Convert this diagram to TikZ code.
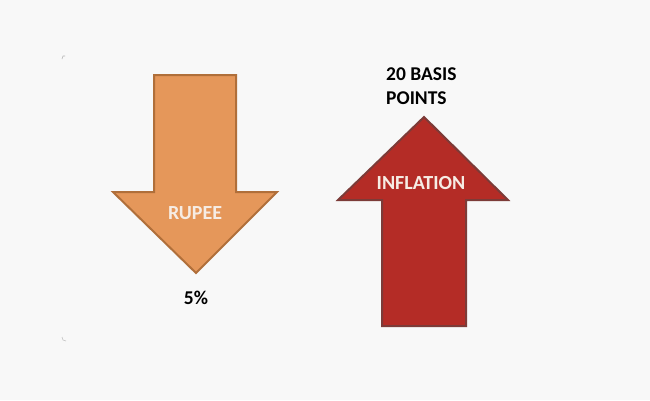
\documentclass[tikz,border=0pt]{standalone}
\usepackage{fontspec}
\setmainfont{Carlito}
\definecolor{bg}{HTML}{F8F8F8}
\definecolor{orfill}{HTML}{E5975A}
\definecolor{ordraw}{HTML}{B06F3A}
\definecolor{rdfill}{HTML}{B42C26}
\definecolor{rddraw}{HTML}{7C3B38}
\definecolor{lbl}{HTML}{F6ECE4}
\begin{document}
\begin{tikzpicture}[x=1pt,y=-1pt,
  arrowshape/.style={line width=2pt, line join=miter},
  blacktext/.style={font=\bfseries\fontsize{19.5}{24}\selectfont, text=black, inner sep=0pt},
  whitetext/.style={font=\bfseries\fontsize{20}{24}\selectfont, text=lbl, inner sep=0pt}]
\fill[bg] (0,0) rectangle (650,400);
\useasboundingbox (0,0) rectangle (650,400);
% faint corner marks
\draw[gray!60, line width=0.6pt] (62,59) -- (63,56) -- (65,56);
\draw[gray!50, line width=0.6pt] (62,337) -- (63,340) -- (66,341);
% down arrow (rupee)
\draw[arrowshape, fill=orfill, draw=ordraw]
  (154,75) -- (236,75) -- (236,192) -- (277,192) -- (196,273) -- (113,192) -- (154,192) -- cycle;
\node[whitetext] (rupee) at (195,213) {RUPEE};
\node[blacktext] (pct) at (196,298) {5\%};
% up arrow (inflation)
\draw[arrowshape, fill=rdfill, draw=rddraw]
  (424,117) -- (508,200) -- (466,200) -- (466,326) -- (382,326) -- (382,200) -- (338,200) -- cycle;
\node[whitetext] (infl) at (421,183) {INFLATION};
\node[blacktext, align=left, anchor=north west] (basis) at (386,68) {20 BASIS\\POINTS};
\end{tikzpicture}
\end{document}
